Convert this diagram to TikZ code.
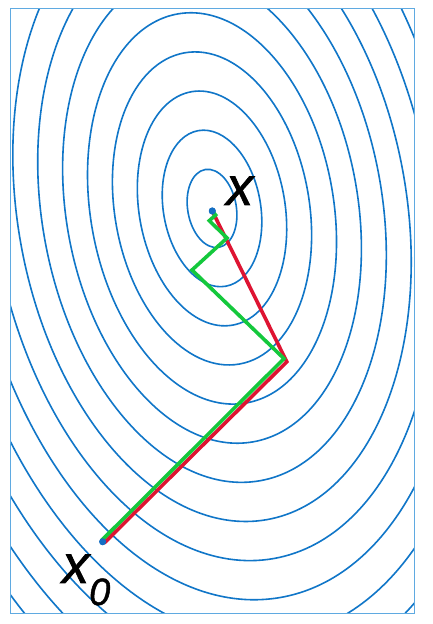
\documentclass[tikz,border=0pt]{standalone}
\usepackage{fontspec}
\setmainfont{Liberation Sans}
\newfontfamily\lblfont[FakeBold=1.2]{Liberation Sans Italic}
\definecolor{ringblue}{RGB}{16,118,200}
\definecolor{frameblue}{RGB}{95,170,225}
\definecolor{dotblue}{RGB}{20,110,195}
\definecolor{pathred}{RGB}{222,20,50}
\definecolor{pathgreen}{RGB}{20,200,60}
\begin{document}
\begin{tikzpicture}[x=1pt,y=1pt,
  ring/.style={draw=ringblue,line width=1.6pt},
  framebox/.style={draw=frameblue,line width=1pt},
  redpath/.style={draw=pathred,line width=3.6pt,line join=miter},
  greenpath/.style={draw=pathgreen,line width=3.6pt,line join=miter},
  dotmark/.style={circle,fill=dotblue,inner sep=0pt,minimum size=7pt},
  lbl/.style={inner sep=0pt,font=\fontsize{54}{54}\selectfont\lblfont}]
\useasboundingbox (0,0) rectangle (432,624);
\fill[white] (0,0) rectangle (432,624);
\coordinate (C) at (212,415.5);
\begin{scope}
  \clip (10,10) rectangle (414,615);
  \foreach \k in {1,...,20} {
    \draw[ring, rotate around={10:(C)}] (C) ellipse [x radius={24.3*\k}, y radius={39.5*\k}];
  }
\end{scope}
\draw[framebox] (10,10) rectangle (414,615);
% points
\node[dotmark] (xs) at (212.3,413) {};
\node[dotmark] (x0) at (102.7,82.3) {};
\coordinate (r0) at (104.2,81.0);
\coordinate (r1) at (286.8,262.2);
\coordinate (g0) at (101.6,83.6);
\coordinate (g1) at (284.0,265.4);
\coordinate (g2) at (192,354);
\coordinate (g3) at (227,386);
\coordinate (g4) at (209.3,403.3);
\coordinate (g5) at (215.6,409);
\draw[redpath] (r0) -- (r1) -- (xs.center);
\draw[greenpath] (g0) -- (g1) -- (g2) -- (g3) -- (g4) -- (g5) -- (xs.center);
\node[dotmark] at (xs.center) {};
\node[dotmark] at (x0.center) {};
% labels
\node[lbl, anchor=base west] (lx) at (226,419) {x};
\node[lbl, anchor=base west] (lx0) at (62,41) {x\raisebox{-22pt}{\fontsize{38}{38}\selectfont 0}};
\end{tikzpicture}
\end{document}
